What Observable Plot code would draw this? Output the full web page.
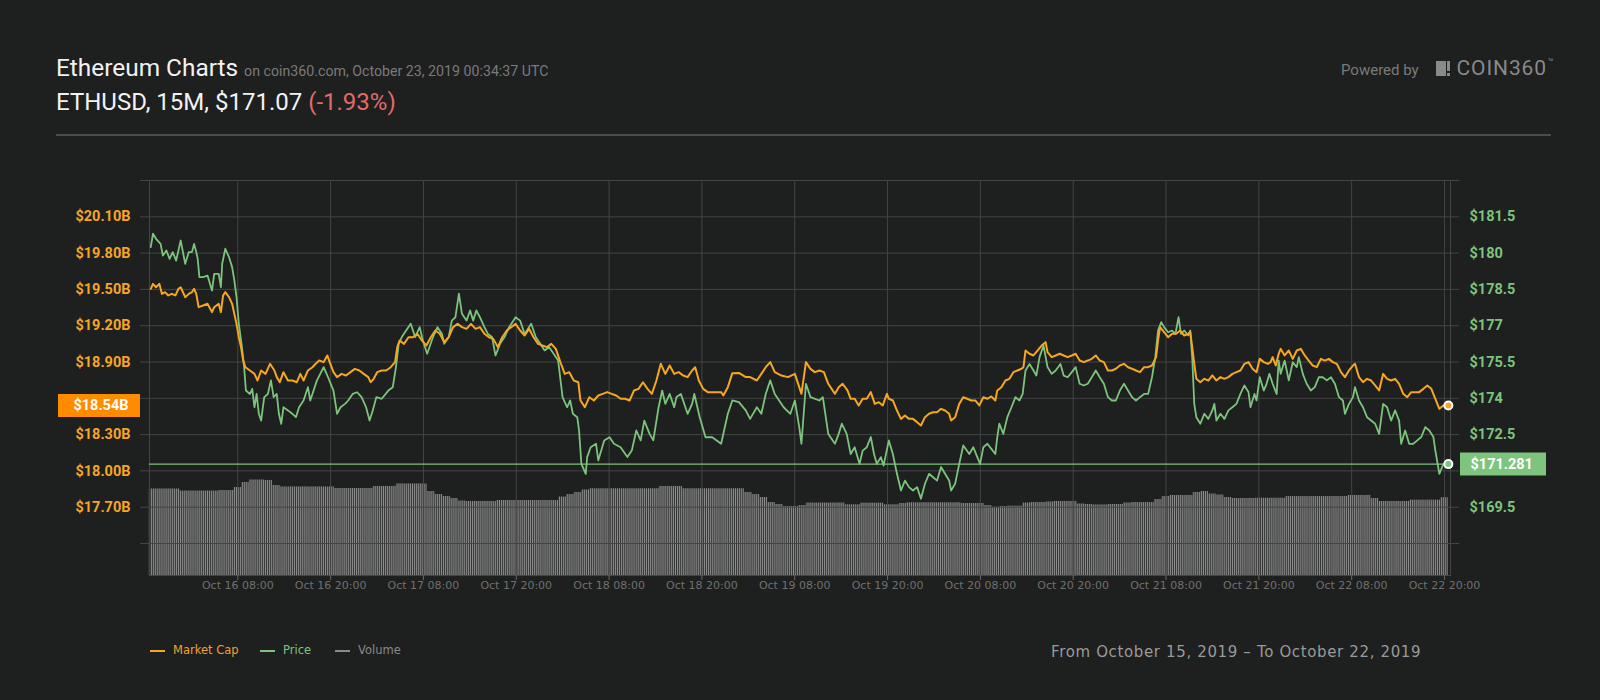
<!DOCTYPE html>
<html><head><meta charset="utf-8">
<script src="https://cdn.jsdelivr.net/npm/d3@7"></script>
<script src="https://cdn.jsdelivr.net/npm/@observablehq/plot@0.6"></script>
<style>
html,body{margin:0;padding:0;background:#1e1f1f;overflow:hidden;}
#page{position:relative;width:1600px;height:700px;background:#1e1f1f;}
#header{position:relative;width:1600px;height:150px;}
#chart{position:relative;width:1600px;height:460px;}
#chart svg{position:absolute;left:0;top:0;}
#footer{position:relative;width:1600px;height:90px;}
.abs{position:absolute;white-space:nowrap;line-height:1;}
#title{left:56px;top:56.2px;font-family:Roboto;font-size:24.4px;color:#f2f2f2;}
#title .sub{font-size:14.2px;color:#7a7a7a;margin-left:6px;}
#line2{left:56px;top:89.8px;font-family:Roboto;font-size:24px;color:#f2f2f2;}
#line2 .chg{color:#e06b6b;}
#hrule{position:absolute;left:56px;width:1495px;top:134px;height:2px;background:#4b4b4b;}
#powered{left:1341px;top:63.4px;font-family:Roboto;font-size:15px;color:#7a7a7a;}
#logoBlock{position:absolute;left:1436px;top:61px;width:10px;height:15px;background:#8a8a8a;}
#logoBar{position:absolute;left:1447px;top:61px;width:3px;height:10px;background:#8a8a8a;}
#logoDot{position:absolute;left:1447px;top:73px;width:3px;height:3px;background:#8a8a8a;}
#logoText{left:1456.5px;top:58px;font-family:Roboto;font-size:21px;letter-spacing:0.9px;color:#8a8a8a;}
#logoTm{left:1548px;top:58px;font-family:Roboto;font-size:9px;color:#8a8a8a;}
.dash{position:absolute;top:40px;width:15px;height:2px;}
.leg{position:absolute;top:35.3px;font-family:"DejaVu Sans";font-size:11.5px;line-height:1;white-space:nowrap;}
#range{left:1051px;top:34.8px;font-family:"DejaVu Sans";font-size:15px;letter-spacing:0.64px;color:#9a9a9a;}
</style>
</head>
<body>
<div id="page">
  <div id="header">
    <div id="title" class="abs">Ethereum Charts<span class="sub">on coin360.com, October 23, 2019 00:34:37 UTC</span></div>
    <div id="line2" class="abs">ETHUSD, 15M, $171.07 <span class="chg">(-1.93%)</span></div>
    <div id="hrule"></div>
    <div id="powered" class="abs">Powered by</div>
    <div id="logoBlock"></div><div id="logoBar"></div><div id="logoDot"></div>
    <div id="logoText" class="abs">COIN360</div>
    <div id="logoTm" class="abs">™</div>
  </div>
  <div id="chart"></div>
  <div id="footer">
    <div class="dash" style="left:150px;background:#f5a623"></div>
    <div class="leg" style="left:173px;color:#f0a02c">Market Cap</div>
    <div class="dash" style="left:260px;background:#7cc47c"></div>
    <div class="leg" style="left:283px;color:#7cc47c">Price</div>
    <div class="dash" style="left:335px;background:#8a8a8a"></div>
    <div class="leg" style="left:358px;color:#8a8a8a">Volume</div>
    <div id="range" class="abs">From October 15, 2019 – To October 22, 2019</div>
  </div>
</div>
<script>
// ---------- data ----------
// time origin; points are [hours after origin, value]
const origin = "2019-10-15T21:00Z";

// ETH price, USD
const pricePoints = [
[-0.25,180.25],[0.04,180.80],[0.44,180.59],[1.02,180.38],[1.31,179.90],[1.77,180.11],[2.18,179.76],[2.58,180.04],
[3.04,179.69],[3.62,180.52],[4.20,179.56],[4.66,180.04],[5.06,180.04],[5.35,180.38],[5.64,180.04],[5.81,179.76],
[6.04,179.01],[6.51,179.01],[7.08,179.07],[7.66,178.45],[7.95,179.14],[8.53,179.14],[8.82,178.59],[8.99,179.56],
[9.39,180.18],[9.86,179.83],[10.26,179.42],[10.55,178.87],[10.84,178.18],[11.13,177.08],[11.53,176.11],[11.82,175.29],
[12.05,174.32],[12.57,174.18],[12.86,174.39],[13.15,173.63],[13.44,174.18],[13.72,173.36],[14.01,173.08],[14.42,174.05],
[14.88,174.18],[15.28,174.74],[15.63,174.05],[16.03,174.18],[16.32,173.36],[16.61,172.94],[16.90,173.63],[17.48,173.50],
[18.05,173.36],[18.52,173.22],[18.92,173.63],[19.50,173.91],[20.07,174.46],[20.36,173.91],[21.23,174.74],[22.10,175.29],
[22.67,174.87],[23.37,174.32],[23.83,173.36],[24.29,173.63],[24.87,173.77],[25.27,173.91],[25.85,174.18],[26.43,174.25],
[27.00,174.05],[27.58,173.63],[28.04,173.08],[28.45,173.50],[28.91,174.05],[29.60,173.98],[30.47,174.32],[31.04,174.46],
[31.45,175.29],[31.80,176.25],[32.20,176.53],[33.35,177.08],[33.93,176.53],[34.51,176.94],[34.91,176.39],[35.49,175.84],
[36.24,176.53],[36.82,176.94],[37.40,176.66],[37.68,176.25],[38.26,176.53],[38.67,177.21],[39.13,177.35],[39.59,178.32],
[39.99,177.49],[40.57,177.21],[41.03,177.63],[41.44,177.21],[41.84,177.63],[42.30,177.35],[42.88,176.94],[43.34,176.66],
[43.86,176.53],[44.32,175.77],[44.90,176.25],[45.48,176.53],[46.06,176.94],[46.92,177.35],[47.50,177.21],[48.08,176.66],
[48.94,177.08],[49.52,176.53],[50.10,176.25],[50.67,175.98],[51.25,176.11],[51.83,175.84],[52.41,175.56],[52.98,174.05],
[53.56,173.63],[53.97,173.91],[54.31,173.36],[54.89,173.22],[55.12,172.67],[55.41,171.29],[55.99,170.88],[56.16,171.57],
[56.62,171.98],[57.32,172.12],[57.60,171.43],[58.36,172.26],[59.05,172.39],[59.63,172.12],[60.49,171.98],[61.36,171.57],
[61.93,171.84],[62.51,172.67],[63.09,172.26],[63.55,173.08],[64.24,172.53],[64.71,172.26],[65.40,173.63],[65.86,174.32],
[66.26,173.77],[66.84,174.18],[67.42,173.63],[67.71,174.05],[68.29,174.18],[69.15,173.36],[69.73,173.77],[70.02,174.18],
[70.71,173.22],[71.46,172.39],[72.33,172.39],[73.48,172.12],[74.35,173.36],[74.93,173.91],[75.79,173.84],[76.66,173.50],
[77.23,173.15],[78.10,173.63],[78.68,173.36],[79.25,174.18],[79.83,174.74],[80.41,174.18],[81.56,173.63],[82.43,173.36],
[83.01,173.91],[83.59,172.81],[83.87,172.12],[84.45,174.60],[85.03,174.05],[86.18,173.91],[86.64,174.05],[87.34,172.53],
[88.20,172.12],[88.68,172.53],[89.09,172.95],[89.71,172.53],[90.23,171.70],[90.75,171.98],[91.38,171.29],[91.79,171.84],
[92.31,171.98],[92.83,172.40],[93.25,171.70],[93.61,171.29],[94.13,171.57],[94.49,171.22],[95.17,172.26],[95.69,171.70],
[96.21,170.88],[96.73,170.19],[97.25,170.60],[97.77,170.33],[98.29,170.19],[98.81,170.33],[99.32,169.85],[99.84,170.47],
[100.36,170.88],[100.88,170.74],[101.40,170.60],[101.92,171.16],[102.44,170.88],[102.96,170.60],[103.22,170.19],[103.74,170.47],
[104.26,171.29],[104.78,172.05],[105.56,171.70],[106.08,171.98],[106.60,171.57],[106.96,171.29],[107.38,171.98],[107.90,172.12],
[108.42,171.91],[108.94,171.70],[109.19,172.40],[109.45,172.95],[109.97,172.53],[110.49,173.22],[111.01,173.63],[111.53,174.05],
[112.05,173.91],[112.47,174.18],[112.83,175.15],[113.35,175.42],[113.87,175.15],[114.23,174.94],[114.65,175.70],[115.17,176.18],
[115.69,175.29],[116.21,175.01],[116.73,175.15],[117.35,175.42],[117.77,174.94],[118.29,174.87],[118.81,175.08],[119.32,175.29],
[119.84,174.60],[120.36,174.53],[120.88,174.60],[121.40,174.87],[121.92,175.15],[122.44,174.87],[122.96,174.60],[123.48,174.05],
[124.00,173.91],[124.52,173.91],[125.04,174.32],[125.56,174.60],[126.08,174.32],[126.60,174.05],[127.12,173.91],[127.64,174.05],
[128.16,174.18],[128.68,174.18],[129.19,174.87],[129.61,175.70],[129.97,176.80],[130.39,177.15],[130.75,176.94],[131.27,176.73],
[131.79,176.80],[132.21,176.66],[132.62,177.35],[132.94,176.66],[133.35,176.80],[133.87,176.60],[134.13,176.80],[134.39,175.70],
[134.65,173.77],[134.91,173.22],[135.43,172.95],[135.95,173.36],[136.47,173.15],[136.99,173.50],[137.25,173.77],[137.51,173.08],
[138.03,173.36],[138.55,173.15],[139.06,173.50],[139.58,173.63],[140.10,173.77],[140.62,174.18],[141.14,174.53],[141.66,174.25],
[141.92,173.63],[142.44,174.18],[142.70,173.91],[143.12,174.87],[143.64,174.32],[144.00,174.60],[144.36,175.01],[144.78,174.60],
[145.30,174.18],[145.56,175.56],[145.82,175.01],[146.34,175.56],[146.86,174.74],[147.38,175.49],[147.90,175.29],[148.16,175.70],
[148.68,175.01],[149.19,174.60],[149.71,174.32],[150.23,174.46],[150.75,174.87],[151.27,174.87],[151.79,174.74],[152.31,174.87],
[152.83,174.60],[153.35,174.05],[153.87,173.91],[154.13,173.36],[154.65,173.77],[155.17,174.05],[155.43,174.46],[155.95,173.91],
[156.47,173.63],[156.99,173.22],[157.51,173.08],[158.03,172.95],[158.55,172.53],[159.06,173.77],[159.58,173.63],[160.10,173.08],
[160.62,173.50],[161.14,173.08],[161.40,172.12],[161.92,172.67],[162.44,172.12],[162.96,172.12],[163.48,172.26],[164.00,172.40],
[164.52,172.81],[165.04,172.67],[165.56,172.40],[165.82,171.84],[166.34,170.88],[166.86,171.29],[167.22,171.29],[167.50,171.281]
];

// Market cap, USD billions
const capPoints = [
[-0.25,19.505],[0.04,19.546],[0.44,19.518],[0.85,19.546],[1.20,19.463],[1.60,19.477],[2.00,19.450],[2.47,19.463],
[2.93,19.450],[3.33,19.505],[3.62,19.518],[4.20,19.436],[4.66,19.463],[5.06,19.477],[5.35,19.505],[5.64,19.463],
[5.93,19.353],[6.51,19.367],[7.08,19.381],[7.66,19.312],[7.95,19.353],[8.53,19.381],[8.82,19.312],[9.10,19.450],
[9.39,19.477],[9.86,19.436],[10.26,19.381],[10.55,19.298],[10.84,19.215],[11.13,19.105],[11.41,19.023],[11.70,18.912],
[11.99,18.857],[12.57,18.830],[13.15,18.802],[13.55,18.747],[14.01,18.830],[14.59,18.802],[15.17,18.885],[15.74,18.830],
[16.03,18.775],[16.44,18.733],[16.90,18.816],[17.48,18.747],[18.05,18.747],[18.63,18.733],[19.09,18.802],[19.50,18.747],
[20.07,18.830],[20.65,18.857],[21.06,18.885],[21.52,18.912],[22.10,18.899],[22.56,18.954],[22.96,18.885],[23.37,18.816],
[23.83,18.775],[24.41,18.802],[24.98,18.788],[25.56,18.816],[26.14,18.843],[26.72,18.830],[27.29,18.802],[27.87,18.775],
[28.16,18.733],[28.56,18.761],[29.02,18.816],[29.60,18.830],[30.18,18.830],[30.76,18.857],[31.33,18.899],[31.62,19.023],
[31.91,19.078],[32.49,19.050],[33.07,19.105],[33.64,19.105],[34.22,19.133],[34.80,19.078],[35.38,19.036],[35.95,19.105],
[36.53,19.160],[37.11,19.133],[37.69,19.064],[38.26,19.105],[38.84,19.188],[39.42,19.215],[39.99,19.188],[40.57,19.174],
[41.15,19.215],[41.73,19.174],[42.30,19.188],[42.88,19.133],[43.46,19.105],[44.03,19.091],[44.61,19.023],[45.19,19.105],
[45.77,19.160],[46.35,19.188],[46.92,19.215],[47.50,19.160],[48.08,19.119],[48.65,19.174],[49.23,19.105],[49.81,19.050],
[50.39,19.036],[50.96,19.023],[51.54,19.050],[52.12,19.009],[52.70,18.899],[53.27,18.802],[53.85,18.816],[54.43,18.747],
[55.01,18.733],[55.30,18.582],[55.87,18.527],[56.45,18.609],[57.03,18.582],[57.60,18.623],[58.18,18.637],[58.76,18.651],
[59.34,18.637],[59.91,18.623],[60.49,18.596],[61.07,18.596],[61.65,18.582],[62.22,18.664],[62.80,18.678],[63.38,18.733],
[63.96,18.678],[64.53,18.637],[65.11,18.747],[65.69,18.885],[66.27,18.802],[66.84,18.871],[67.42,18.802],[68.00,18.816],
[68.57,18.788],[69.15,18.775],[69.73,18.830],[70.13,18.857],[70.60,18.747],[71.17,18.678],[71.75,18.651],[72.62,18.651],
[73.48,18.651],[73.77,18.623],[74.35,18.692],[74.93,18.808],[75.79,18.810],[76.66,18.775],[77.23,18.775],[78.10,18.747],
[78.68,18.802],[79.25,18.857],[79.83,18.899],[80.41,18.816],[81.28,18.788],[82.14,18.775],[83.01,18.802],[83.59,18.692],
[83.87,18.637],[84.45,18.899],[85.03,18.843],[85.60,18.816],[86.18,18.830],[86.76,18.816],[87.34,18.720],[88.20,18.637],
[88.68,18.692],[89.19,18.720],[89.82,18.665],[90.23,18.596],[90.75,18.596],[91.27,18.541],[91.79,18.596],[92.31,18.596],
[92.83,18.651],[93.35,18.554],[93.87,18.568],[94.39,18.541],[94.91,18.637],[95.17,18.596],[95.69,18.582],[96.21,18.499],
[96.73,18.430],[97.25,18.458],[97.77,18.430],[98.29,18.430],[98.81,18.403],[99.32,18.375],[99.84,18.444],[100.36,18.472],
[100.88,18.485],[101.40,18.485],[101.92,18.513],[102.44,18.499],[102.96,18.472],[103.22,18.417],[103.74,18.444],[104.26,18.554],
[104.78,18.609],[105.30,18.596],[105.82,18.582],[106.34,18.582],[106.86,18.541],[107.38,18.609],[107.90,18.596],[108.42,18.615],
[108.94,18.582],[109.19,18.665],[109.71,18.692],[110.23,18.747],[110.75,18.761],[111.27,18.816],[111.79,18.830],[112.31,18.844],
[112.57,18.857],[112.83,18.995],[113.35,18.968],[113.87,18.954],[114.39,18.995],[114.91,19.036],[115.43,19.064],[115.69,18.981],
[116.21,18.940],[116.73,18.954],[117.25,18.968],[117.77,18.954],[118.29,18.940],[118.81,18.954],[119.32,18.968],[119.84,18.912],
[120.36,18.899],[120.88,18.912],[121.40,18.926],[121.92,18.954],[122.44,18.912],[122.96,18.899],[123.48,18.830],[124.00,18.830],
[124.52,18.844],[125.04,18.871],[125.56,18.885],[126.08,18.857],[126.60,18.844],[127.12,18.830],[127.64,18.816],[128.16,18.857],
[128.68,18.857],[129.19,18.871],[129.71,18.940],[129.97,19.078],[130.23,19.188],[130.75,19.147],[131.27,19.105],[131.79,19.133],
[132.31,19.133],[132.83,19.160],[133.35,19.119],[133.87,19.133],[134.13,19.147],[134.39,19.023],[134.65,18.885],[134.91,18.761],
[135.43,18.733],[135.95,18.761],[136.47,18.747],[136.99,18.789],[137.51,18.747],[138.03,18.775],[138.55,18.761],[139.06,18.775],
[139.58,18.802],[140.10,18.816],[140.62,18.830],[141.14,18.885],[141.66,18.899],[142.18,18.844],[142.70,18.816],[143.12,18.926],
[143.64,18.899],[144.16,18.885],[144.52,18.899],[144.78,18.940],[145.19,18.871],[145.56,18.968],[145.82,19.009],[146.34,18.954],
[146.86,18.995],[147.38,18.926],[147.90,18.995],[148.42,19.009],[148.94,18.954],[149.45,18.912],[149.97,18.871],[150.49,18.857],
[151.01,18.926],[151.53,18.912],[152.05,18.926],[152.57,18.899],[153.09,18.885],[153.61,18.816],[154.13,18.775],[154.65,18.830],
[155.17,18.871],[155.43,18.885],[155.95,18.775],[156.47,18.733],[156.99,18.761],[157.51,18.747],[158.03,18.706],[158.55,18.665],
[159.06,18.802],[159.58,18.761],[160.10,18.747],[160.62,18.761],[161.14,18.720],[161.66,18.637],[162.18,18.609],[162.70,18.651],
[163.22,18.651],[163.74,18.651],[164.26,18.678],[164.78,18.706],[165.30,18.678],[165.82,18.596],[166.34,18.513],[166.86,18.541],
[167.38,18.541],[167.50,18.54]
];
const priceLast = 171.281;
const capLast = 18.54;

// 24h volume (USD billions), one value per hour starting at the origin hour
const volumeHourly = [
7.21,7.21,7.21,7.21,7.04,7.04,7.04,7.04,7.04,7.08,
7.08,7.33,7.75,7.96,7.96,7.92,7.50,7.38,7.38,7.38,
7.38,7.38,7.38,7.38,7.25,7.25,7.25,7.25,7.25,7.42,
7.42,7.42,7.63,7.63,7.63,7.63,7.00,6.75,6.58,6.42,
6.21,6.17,6.17,6.17,6.17,6.25,6.25,6.25,6.25,6.25,
6.25,6.25,6.25,6.54,6.75,6.92,7.13,7.23,7.23,7.23,
7.23,7.23,7.23,7.23,7.23,7.23,7.42,7.42,7.42,7.23,
7.23,7.23,7.23,7.23,7.23,7.23,7.23,6.92,6.75,6.50,
6.08,5.92,5.75,5.75,5.83,6.04,6.04,6.04,6.04,6.04,
5.89,5.89,6.03,6.03,6.03,5.89,5.89,6.00,6.06,6.06,
6.06,6.06,6.06,6.06,6.06,6.00,6.00,6.00,5.83,5.69,
5.75,5.78,5.78,6.04,6.08,6.08,6.13,6.17,6.17,6.17,
5.96,5.92,5.88,5.88,5.92,5.92,6.04,6.08,6.08,6.08,
6.33,6.58,6.67,6.67,6.67,6.92,7.00,6.79,6.71,6.50,
6.42,6.42,6.42,6.44,6.44,6.44,6.44,6.58,6.58,6.58,
6.58,6.58,6.58,6.58,6.58,6.67,6.67,6.67,6.42,6.17,
6.17,6.17,6.17,6.28,6.28,6.28,6.28,6.48
];

// axis ticks
const xTicks = ["2019-10-16T08:00Z","2019-10-16T20:00Z","2019-10-17T08:00Z","2019-10-17T20:00Z",
  "2019-10-18T08:00Z","2019-10-18T20:00Z","2019-10-19T08:00Z","2019-10-19T20:00Z",
  "2019-10-20T08:00Z","2019-10-20T20:00Z","2019-10-21T08:00Z","2019-10-21T20:00Z",
  "2019-10-22T08:00Z","2019-10-22T20:00Z"].map(s => new Date(s));
const gridPrices = [168, 169.5, 171, 172.5, 174, 175.5, 177, 178.5, 180, 181.5, 183];
const priceTicks = [169.5, 172.5, 174, 175.5, 177, 178.5, 180, 181.5];
const capTicks = [17.70, 18.00, 18.30, 18.90, 19.20, 19.50, 19.80, 20.10];

// ---------- build rows ----------
const t0 = new Date(origin);
const toTime = h => d3.utcMinute.offset(t0, Math.round(h * 60));
const priceRows = pricePoints.map(([h, v]) => ({t: toTime(h), v}));
const capRows = capPoints.map(([h, v]) => ({t: toTime(h), v}));
const volRows = volumeHourly.map((v, i) => ({
  t1: d3.utcMinute.offset(t0, i * 60 - 30), t2: d3.utcMinute.offset(t0, i * 60 + 30), v}));

// ---------- plots ----------
const ORANGE = "#f5a623", GREEN = "#7cc47c", GRID = "#444444";
const common = {
  width: 1600, height: 460, marginTop: 30, marginBottom: 35, marginLeft: 149, marginRight: 150,
  x: {type: "utc", domain: [new Date("2019-10-15T20:35:05Z"), new Date("2019-10-22T20:46:34Z")], axis: null},
  style: {background: "transparent", overflow: "visible", fontFamily: "DejaVu Sans", fontSize: "11px"}
};
const boldLabel = {fontFamily: "Roboto", fontWeight: "bold", fontSize: 14.5};

const volSvg = Plot.plot({
  ...common,
  y: {domain: [0, 32.92], axis: null},
  marks: [
    Plot.rectY(volRows, {x1: "t1", x2: "t2", y: "v", fill: "url(#vstripes)"})
  ]
});
const ns = "http://www.w3.org/2000/svg";
const defs = document.createElementNS(ns, "defs");
const pat = document.createElementNS(ns, "pattern");
pat.setAttribute("id", "vstripes");
pat.setAttribute("patternUnits", "userSpaceOnUse");
pat.setAttribute("x", "149"); pat.setAttribute("y", "0");
pat.setAttribute("width", "1.934"); pat.setAttribute("height", "8");
const pr = document.createElementNS(ns, "rect");
pr.setAttribute("width", "1.15"); pr.setAttribute("height", "8"); pr.setAttribute("fill", "#8e8e8e");
pat.appendChild(pr); defs.appendChild(pat); volSvg.insertBefore(defs, volSvg.firstChild);

const priceSvg = Plot.plot({
  ...common,
  y: {domain: [166.678, 183.0], axis: null},
  marks: [
    Plot.ruleY(gridPrices, {stroke: GRID, insetLeft: -9, insetRight: -9}),
    Plot.ruleX(xTicks, {stroke: GRID}),
    Plot.frame({stroke: GRID}),
    Plot.axisX(xTicks, {tickSize: 5, tickPadding: 1, stroke: "#666", fill: "#707070", label: null,
      tickFormat: d3.utcFormat("%b %d %H:%M"), fontFamily: "DejaVu Sans", fontSize: 11}),
    Plot.axisY(priceTicks, {anchor: "right", tickSize: 0, tickPadding: 19, fill: GREEN, label: null,
      tickFormat: d => "$" + d, ...boldLabel}),
    Plot.ruleY([priceLast], {stroke: GREEN, strokeWidth: 1.2}),
    Plot.line(priceRows, {x: "t", y: "v", stroke: GREEN, strokeWidth: 1.8}),
    Plot.ruleY([priceLast], {stroke: "#7dc47d", strokeWidth: 23, insetLeft: 1311, insetRight: -96}),
    Plot.text([priceLast], {y: d => d, frameAnchor: "right", dx: 20, textAnchor: "start",
      text: d => "$" + d, fill: "#ffffff", ...boldLabel}),
    Plot.dot([priceRows[priceRows.length - 1]], {x: "t", y: "v", r: 4, fill: GREEN, stroke: "#ffffff", strokeWidth: 2})
  ]
});

const capSvg = Plot.plot({
  ...common,
  y: {domain: [17.1355, 20.40], axis: null},
  marks: [
    Plot.axisY(capTicks, {anchor: "left", tickSize: 0, tickPadding: 19, fill: ORANGE, label: null,
      tickFormat: d => "$" + d.toFixed(2) + "B", ...boldLabel}),
    Plot.ruleY([capLast], {stroke: "#ff8c00", strokeWidth: 23, insetLeft: -91, insetRight: 1310}),
    Plot.text([capLast], {y: d => d, frameAnchor: "left", dx: -21, textAnchor: "end",
      text: d => "$" + d.toFixed(2) + "B", fill: "#ffffff", ...boldLabel}),
    Plot.line(capRows, {x: "t", y: "v", stroke: ORANGE, strokeWidth: 2}),
    Plot.dot([capRows[capRows.length - 1]], {x: "t", y: "v", r: 4, fill: ORANGE, stroke: "#ffffff", strokeWidth: 2})
  ]
});

const chart = document.getElementById("chart");
chart.appendChild(volSvg);
chart.appendChild(priceSvg);
chart.appendChild(capSvg);
</script>
</body></html>
